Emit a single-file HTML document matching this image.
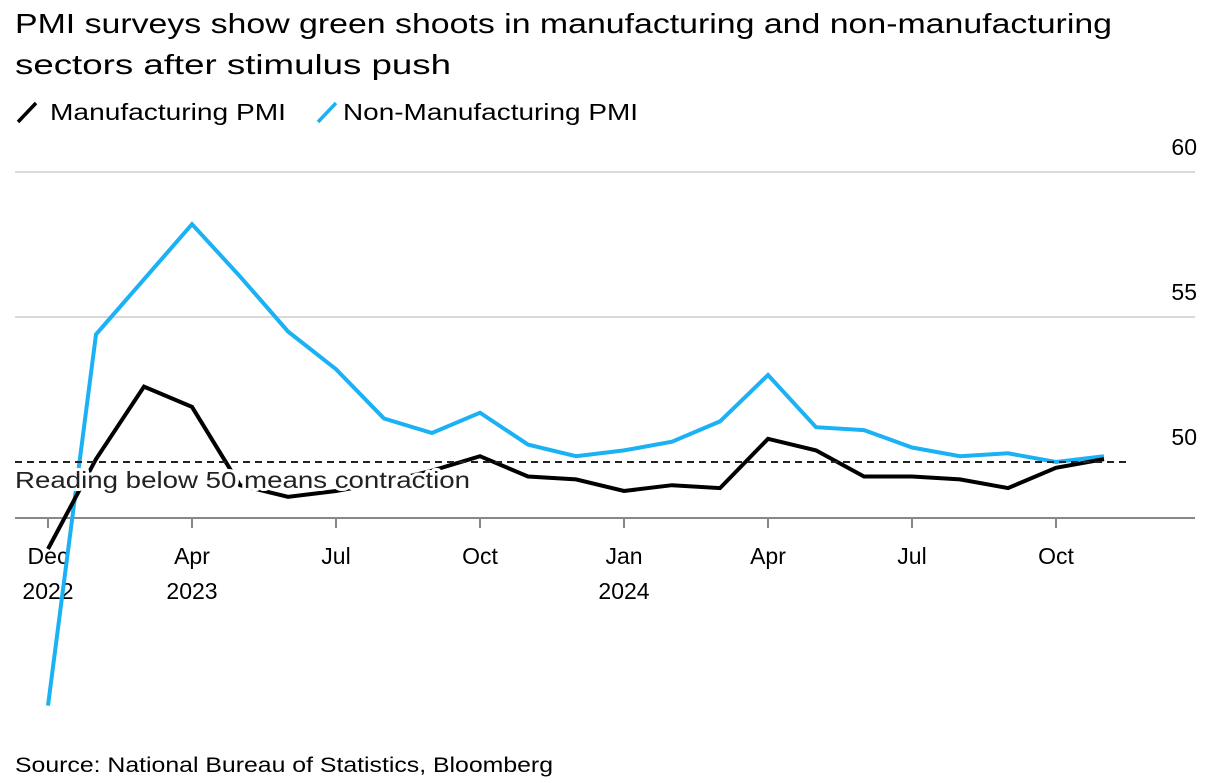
<!DOCTYPE html>
<html><head><meta charset="utf-8"><style>
body{margin:0;background:#fff;font-family:"Liberation Sans",Arial,sans-serif;}
svg{display:block}
</style></head><body>
<svg id="chart" width="1211" height="783" font-family="Liberation Sans, Arial, sans-serif">
<text x="15" y="33" font-size="28" fill="#000" textLength="1097" lengthAdjust="spacingAndGlyphs">PMI surveys show green shoots in manufacturing and non-manufacturing</text>
<text x="15" y="74" font-size="28" fill="#000" textLength="436" lengthAdjust="spacingAndGlyphs">sectors after stimulus push</text>
<g>
<line x1="18" y1="122" x2="36" y2="103" stroke="#000" stroke-width="3.5"/>
<text x="50" y="120" font-size="23" textLength="236" lengthAdjust="spacingAndGlyphs">Manufacturing PMI</text>
<line x1="318" y1="122" x2="336" y2="103" stroke="#1ab1f5" stroke-width="3.5"/>
<text x="343" y="120" font-size="23" textLength="295" lengthAdjust="spacingAndGlyphs">Non-Manufacturing PMI</text>
</g>
<g id="grid"></g>
<g id="xaxis"></g>
<g id="series"></g>
<text x="15" y="772" font-size="21" fill="#000" textLength="538" lengthAdjust="spacingAndGlyphs">Source: National Bureau of Statistics, Bloomberg</text>
</svg>
<script>
const months = ["Dec 2022","Jan","Feb","Mar","Apr","May","Jun","Jul","Aug","Sep","Oct","Nov","Dec","Jan 2024","Feb","Mar","Apr","May","Jun","Jul","Aug","Sep","Oct"];
const manufacturing = [47.0,50.1,52.6,51.9,49.2,48.8,49.0,49.3,49.7,50.2,49.5,49.4,49.0,49.2,49.1,50.8,50.4,49.5,49.5,49.4,49.1,49.8,50.1];
const nonManufacturing = [41.6,54.4,56.3,58.2,56.4,54.5,53.2,51.5,51.0,51.7,50.6,50.2,50.4,50.7,51.4,53.0,51.2,51.1,50.5,50.2,50.3,50.0,50.2];
const yTicks = [50,55,60];
const xTickIdx = [0,3,6,9,12,15,18,21];
const xTickMonth = ["Dec","Apr","Jul","Oct","Jan","Apr","Jul","Oct"];
const xTickYear = ["2022","2023","","","2024","","",""];

const NS="http://www.w3.org/2000/svg";
const x = i => 48 + i*48;
const y = v => 462 - (v-50)*29;
function mk(tag, attrs, parent){const e=document.createElementNS(NS,tag);for(const k in attrs)e.setAttribute(k,attrs[k]);parent.appendChild(e);return e;}
const grid=document.getElementById('grid'), xa=document.getElementById('xaxis'), ser=document.getElementById('series');

yTicks.forEach(t=>{
  if(t!==50){
    const g=mk('line',{x1:15,x2:1195,y1:y(t),y2:y(t),stroke:'#d9d9d9','stroke-width':2},grid);
    
    
  }
  const l=mk('text',{x:1197,y:y(t)-17,'font-size':23,'text-anchor':'end'},grid);
  l.textContent=t;
  
  
});

const base=mk('line',{x1:15,x2:1195,y1:518,y2:518,stroke:'#888','stroke-width':2},xa);


xTickIdx.forEach((idx,k)=>{
  const t=mk('line',{x1:x(idx),x2:x(idx),y1:518,y2:528,stroke:'#888','stroke-width':2},xa);
  
  
  const m=mk('text',{x:x(idx),y:564,'font-size':23,'text-anchor':'middle'},xa);
  m.textContent=xTickMonth[k];
  
  
  if(xTickYear[k]){
    const yr=mk('text',{x:x(idx),y:599,'font-size':23,'text-anchor':'middle'},xa);
    yr.textContent=xTickYear[k];
    
    
  }
});

function path(vals,color,name){
  const d=vals.map((v,i)=>(i?'L':'M')+x(i)+','+y(v)).join(' ');
  const p=mk('path',{d:d,fill:'none',stroke:color,'stroke-width':4,'stroke-linejoin':'miter'},ser);
  
  
}
path(nonManufacturing,'#1ab1f5','non-manufacturing-line');
path(manufacturing,'#000','manufacturing-line');

const ref=mk('line',{x1:15,x2:1130,y1:y(50),y2:y(50),stroke:'#222','stroke-width':2,'stroke-dasharray':'7,5'},ser);


const ann=mk('text',{x:15,y:488,'font-size':23,stroke:'#fff','stroke-width':6,'paint-order':'stroke','stroke-linejoin':'round',fill:'#222',textLength:455,lengthAdjust:'spacingAndGlyphs'},ser);
ann.textContent='Reading below 50 means contraction';


</script>
</body></html>
